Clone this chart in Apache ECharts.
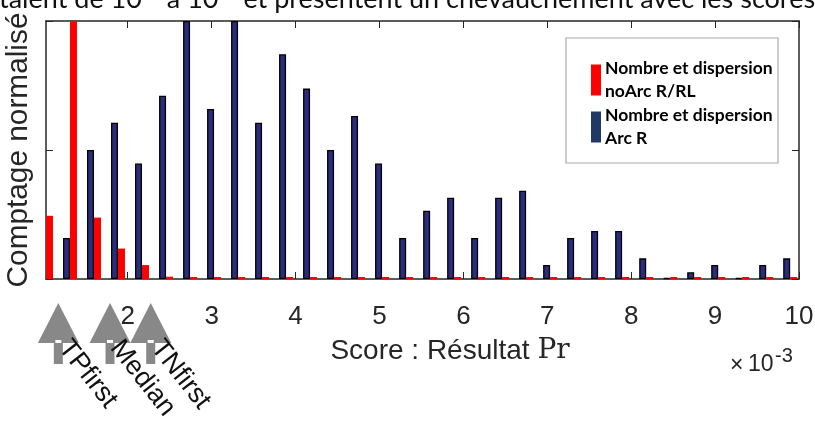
<!DOCTYPE html>
<html>
<head>
<meta charset="utf-8">
<script src="https://cdn.jsdelivr.net/npm/echarts@6/dist/echarts.min.js"></script>
<style>html,body{margin:0;padding:0;background:#fff;}#c{width:815px;height:422px;}</style>
</head>
<body>
<div id="c"></div>
<script>
// Bin centres (score, x 10^-3)
const binCenters = [1.026, 1.312, 1.598, 1.884, 2.170, 2.457, 2.743, 3.029, 3.315, 3.601, 3.887, 4.173, 4.459, 4.745, 5.031, 5.318, 5.604, 5.890, 6.176, 6.462, 6.748, 7.034, 7.320, 7.606, 7.892, 8.179, 8.465, 8.751, 9.037, 9.323, 9.609, 9.895];
// Normalised counts, Arc R (blue)
const arcR = [null, 0.159, 0.5, 0.606, 0.448, 0.71, 1.0, 0.659, 1.0, 0.606, 0.871, 0.738, 0.5, 0.632, 0.448, 0.159, 0.265, 0.315, 0.159, 0.315, 0.342, 0.054, 0.159, 0.186, 0.186, 0.08, 0, 0.026, 0.054, 0, 0.054, 0.08];
// Normalised counts, noArc R/RL (red)
const noArc = [0.245, 1.0, 0.238, 0.118, 0.054, 0.009, 0, 0, 0, 0, 0, 0, 0, 0, 0, 0, 0, 0, 0, 0, 0, 0, 0, 0, 0, 0, 0, 0, 0, 0, 0, 0];
const xTicks = [2, 3, 4, 5, 6, 7, 8, 9, 10];
const seriesNames = ['Nombre et dispersion\nArc R', 'Nombre et dispersion\nnoArc R/RL'];
const markerValues = [1.173, 1.789, 2.274];
const markerLabels = ['TPfirst', 'Median', 'TNfirst'];
const xName = 'Score : Résultat ';
const xNameMath = 'Pr';
const yName = 'Comptage normalisé';
const topText = 'taient de 10⁻³ à 10⁻² et présentent un chevauchement avec les scores';

const XMIN = 1.026, XMAX = 10;
const axisColor = '#262626';
const sans = 'Liberation Sans, Arial, sans-serif';
const legendFont = 'Lato, Open Sans, sans-serif';

const chart = echarts.init(document.getElementById('c'), null, {renderer: 'canvas'});

function pairs(vals) { return binCenters.map((x, i) => [x, vals[i]]); }

const option = {
  animation: false,
  backgroundColor: '#fff',
  grid: {left: 46, right: 16, top: 21, bottom: 143, show: false, containLabel: false, outerBoundsMode: 'none'},
  xAxis: [
    {type: 'value', min: XMIN, max: XMAX, position: 'bottom',
     axisLine: {show: true, onZero: false, lineStyle: {color: axisColor, width: 1.5}},
     axisTick: {show: true, inside: true, length: 7, customValues: xTicks, lineStyle: {color: axisColor, width: 1}},
     axisLabel: {show: true, customValues: xTicks, fontSize: 26, fontFamily: sans, color: axisColor, margin: 25},
     splitLine: {show: false}},
    {type: 'value', min: XMIN, max: XMAX, position: 'top',
     axisLine: {show: true, onZero: false, lineStyle: {color: axisColor, width: 1.5}},
     axisTick: {show: true, inside: true, length: 7, customValues: xTicks, lineStyle: {color: axisColor, width: 1}},
     axisLabel: {show: false}, splitLine: {show: false}}
  ],
  yAxis: [
    {type: 'value', min: 0, max: 1, interval: 0.5, position: 'left',
     axisLine: {show: true, onZero: false, lineStyle: {color: axisColor, width: 1.5}},
     axisTick: {show: true, inside: true, length: 7, lineStyle: {color: axisColor, width: 1}},
     axisLabel: {show: false}, splitLine: {show: false},
     name: yName, nameLocation: 'middle', nameRotate: 90, nameGap: 12,
     nameTextStyle: {fontSize: 29.8, fontFamily: sans, color: axisColor}},
    {type: 'value', min: 0, max: 1, interval: 0.5, position: 'right',
     axisLine: {show: true, onZero: false, lineStyle: {color: axisColor, width: 1.5}},
     axisTick: {show: true, inside: true, length: 7, lineStyle: {color: axisColor, width: 1}},
     axisLabel: {show: false}, splitLine: {show: false}}
  ],
  legend: {
    show: true, orient: 'vertical', left: 591, top: 57, padding: 0, z: 10,
    itemWidth: 10, itemHeight: 31, itemGap: 1,
    icon: 'rect',
    data: [
      {name: seriesNames[1], itemStyle: {color: '#ff0000', borderWidth: 0}},
      {name: seriesNames[0], itemStyle: {color: '#1f3864', borderWidth: 0}}
    ],
    textStyle: {fontSize: 17.5, fontWeight: 'bold', fontFamily: legendFont, color: '#000', lineHeight: 23, padding: [0, 0, 0, -1]},
    selectedMode: false
  },
  series: [
    {name: seriesNames[0], type: 'bar', xAxisIndex: 0, yAxisIndex: 0,
     data: pairs(arcR), barWidth: 7, barGap: '0%', barMinHeight: 1,
     itemStyle: {color: '#2e2a7c', borderColor: '#000', borderWidth: 1.3}, clip: true},
    {name: seriesNames[1], type: 'bar', xAxisIndex: 0, yAxisIndex: 0,
     data: pairs(noArc), barWidth: 7, barGap: '0%', barMinHeight: 2,
     itemStyle: {color: '#ff0000', borderWidth: 0}, clip: true}
  ]
};
chart.setOption(option);

// Annotations placed through the x axis scale
const gfx = [];
gfx.push({type: 'rect', shape: {x: 566, y: 38, width: 212, height: 125}, style: {fill: '#fff', stroke: '#aaa', lineWidth: 1.2}, z: 3});
markerValues.forEach((v, i) => {
  const cx = chart.convertToPixel({xAxisIndex: 0}, v);
  gfx.push({type: 'polygon', shape: {points: [[cx, 303], [cx - 20.5, 343], [cx + 20.5, 343]]}, style: {fill: '#888'}, z: 20});
  gfx.push({type: 'rect', shape: {x: cx - 4.5, y: 340, width: 9, height: 24}, style: {fill: '#888'}, z: 20});
  gfx.push({type: 'rect', shape: {x: cx - 3, y: 340, width: 6, height: 3}, style: {fill: '#fff'}, z: 21});
  gfx.push({type: 'text', x: cx + 16, y: 335, rotation: -52 * Math.PI / 180,
    style: {text: markerLabels[i], fontSize: 27, fontFamily: sans, fill: '#111', align: 'left', verticalAlign: 'top'}, z: 22});
});
gfx.push({type: 'text', x: 450, y: 351,
  style: {text: '{a|' + xName + '}{b|' + xNameMath + '}', align: 'center', verticalAlign: 'middle',
    rich: {a: {fontSize: 28, fontFamily: sans, fill: axisColor, color: axisColor},
           b: {fontSize: 28, fontFamily: 'DejaVu Serif, serif', fill: axisColor, color: axisColor}}}, z: 20});
gfx.push({type: 'text', x: 730, y: 366,
  style: {text: '×', fontSize: 23, fontFamily: sans, fill: axisColor, align: 'left', verticalAlign: 'middle'}, z: 20});
gfx.push({type: 'text', x: 748, y: 365,
  style: {text: '10', fontSize: 23, fontFamily: sans, fill: axisColor, align: 'left', verticalAlign: 'middle'}, z: 20});
gfx.push({type: 'text', x: 775, y: 356,
  style: {text: '-3', fontSize: 20, fontFamily: sans, fill: axisColor, align: 'left', verticalAlign: 'middle'}, z: 20});
gfx.push({type: 'text', x: -1, y: -1,
  style: {text: topText, fontSize: 27, fontFamily: legendFont, fill: '#111', align: 'left', verticalAlign: 'middle'}, z: 20});
chart.setOption({graphic: gfx});
</script>
</body>
</html>
